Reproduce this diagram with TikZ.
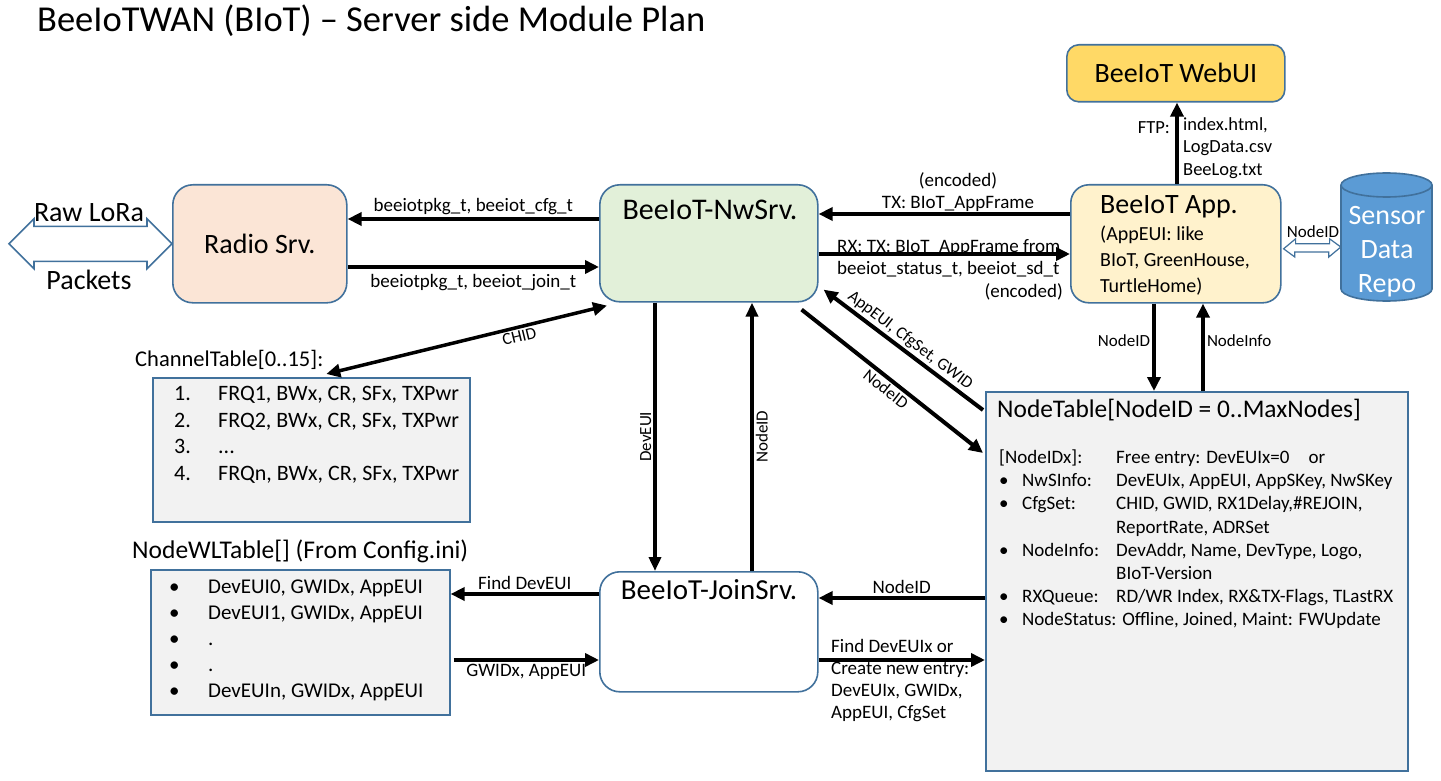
\documentclass[tikz,border=0pt]{standalone}
\usepackage{fontspec}
\setmainfont{Carlito}
\usepackage{tikz}
\usetikzlibrary{shapes.geometric, arrows.meta, positioning, calc}
\definecolor{myborder}{RGB}{65,113,156}
\definecolor{mypeach}{RGB}{251,229,214}
\definecolor{mygreen}{RGB}{226,240,217}
\definecolor{myyellow}{RGB}{255,242,204}
\definecolor{mygold}{RGB}{255,217,102}
\definecolor{mygrey}{RGB}{242,242,242}
\definecolor{myrepo}{RGB}{91,155,213}
\tikzset{
  srvbox/.style={rectangle, draw=myborder, line width=1.6pt, rounded corners=20pt,
    anchor=north west, inner sep=0pt},
  tabbox/.style={rectangle, draw=myborder, fill=mygrey, line width=1.6pt,
    anchor=north west, inner sep=0pt},
  boxtitle/.style={font=\fontsize{28}{33}\selectfont, inner sep=0pt},
  tabtitle/.style={font=\fontsize{24}{28}\selectfont, inner sep=0pt, anchor=west},
  lbl/.style={font=\fontsize{19}{22}\selectfont, inner sep=2pt},
  slbl/.style={font=\fontsize{17}{20}\selectfont, inner sep=2pt},
  arrow/.style={-{Triangle[length=14pt,width=13pt]}, line width=4pt},
  varrow/.style={-{Triangle[length=14pt,width=12pt]}, line width=3.5pt},
  hollow/.style={draw=myborder, fill=white, line width=1.6pt}
}
\begin{document}
\begin{tikzpicture}[x=1pt, y=-1pt]
  \fill[white] (0,0) rectangle (1441,781);
  \useasboundingbox (0,0) rectangle (1441,781);

  % Title
  \node[font=\fontsize{36.5}{42}\selectfont, anchor=west, inner sep=0pt] (title) at (37,21)
    {BeeIoTWAN (BIoT) – Server side Module Plan};

  % Server boxes
  \node[srvbox, fill=mypeach, minimum width=174pt, minimum height=118pt] (radio) at (172,184) {};
  \node[boxtitle] (radiot) at (radio.center) {Radio Srv.};
  \node[srvbox, fill=mygreen, minimum width=218pt, minimum height=117pt] (nwsrv) at (599,184) {};
  \node[boxtitle, font=\fontsize{30}{35}\selectfont] (nwsrvt) at (710,210) {BeeIoT-NwSrv.};
  \node[srvbox, fill=white, minimum width=218pt, minimum height=120pt] (join) at (599,571) {};
  \node[boxtitle, font=\fontsize{29}{34}\selectfont] (joint) at (709,590) {BeeIoT-JoinSrv.};
  \node[srvbox, fill=myyellow, rounded corners=18pt, minimum width=210pt, minimum height=118pt] (app) at (1070,184) {};
  \node[boxtitle, anchor=west] (appt) at (1100,207) {BeeIoT App.};
  \node[font=\fontsize{20}{26}\selectfont, align=left, anchor=north west, inner sep=0pt] (appsub) at (1100,226)
    {(AppEUI: like\\BIoT, GreenHouse,\\TurtleHome)};
  \node[srvbox, fill=mygold, rounded corners=12pt, minimum width=218pt, minimum height=57pt] (webui) at (1066,44) {};
  \node[boxtitle] (webuit) at (webui.center) {BeeIoT WebUI};

  % Sensor data repository
  \fill[myrepo] (1341,185) rectangle (1432,289);
  \fill[myrepo] (1386.5,289) ellipse [x radius=45.5, y radius=12];
  \draw[myborder, line width=1.6pt] (1341,185) -- (1341,289)
    arc[start angle=180, end angle=0, x radius=45.5, y radius=12] -- (1432,185);
  \filldraw[fill=myrepo, draw=myborder, line width=1.6pt] (1386.5,185) ellipse [x radius=45.5, y radius=12];
  \node[minimum width=91pt, minimum height=128pt, inner sep=0pt] (repo) at (1386.5,237) {};
  \node[font=\fontsize{28}{34}\selectfont, text=white, align=center, inner sep=0pt] (repot) at (1387,252)
    {Sensor\\Data\\Repo};

  % Tables
  \node[tabtitle, font=\fontsize{22.5}{27}\selectfont] (chant) at (135,360) {ChannelTable[0..15]:};
  \node[tabbox, minimum width=317pt, minimum height=144pt] (chan) at (152,377) {};
  \node[font=\fontsize{22}{26.5}\selectfont, anchor=north west, inner sep=0pt] (chanitems) at (174,382)
    {\begin{tabular}{@{}p{44pt}@{}l@{}}
      1. & FRQ1, BWx, CR, SFx, TXPwr\\
      2. & FRQ2, BWx, CR, SFx, TXPwr\\
      3. & ...\\
      4. & FRQn, BWx, CR, SFx, TXPwr
    \end{tabular}};

  \node[tabtitle, font=\fontsize{25.5}{30}\selectfont] (wlt) at (132,551) {NodeWLTable[] (From Config.ini)};
  \node[tabbox, minimum width=299pt, minimum height=145pt] (wl) at (150,569) {};
  \node[font=\fontsize{21}{26}\selectfont, anchor=north west, inner sep=0pt] (wlitems) at (169,575)
    {\begin{tabular}{@{}p{39pt}@{}l@{}}
      • & DevEUI0, GWIDx, AppEUI\\
      • & DevEUI1, GWIDx, AppEUI\\
      • & .\\
      • & .\\
      • & DevEUIn, GWIDx, AppEUI
    \end{tabular}};

  \node[tabbox, minimum width=422pt, minimum height=379pt] (ntab) at (985,391) {};
  \node[font=\fontsize{25.4}{30}\selectfont, anchor=west, inner sep=0pt] (ntabt) at (997,410)
    {NodeTable[NodeID = 0..MaxNodes]};
  \node[font=\fontsize{19}{23.2}\selectfont, anchor=north west, inner sep=0pt] (ntitems) at (999,447)
    {\begin{tabular}{@{}p{117pt}@{}l@{}}
      [NodeIDx]: & Free entry: DevEUIx=0\quad or\\
      \makebox[23pt][l]{•}NwSInfo: & DevEUIx, AppEUI, AppSKey, NwSKey\\
      \makebox[23pt][l]{•}CfgSet: & CHID, GWID, RX1Delay,\#REJOIN,\\
       & ReportRate, ADRSet\\
      \makebox[23pt][l]{•}NodeInfo: & DevAddr, Name, DevType, Logo,\\
       & BIoT-Version\\
      \makebox[23pt][l]{•}RXQueue: & RD/WR Index, RX\&TX-Flags, TLastRX\\
      \multicolumn{2}{@{}l@{}}{\makebox[23pt][l]{•}NodeStatus: Offline, Joined, Maint: FWUpdate}
    \end{tabular}};

  % Raw LoRa packets
  \draw[hollow] (radio.west) -- ++(-25,-25) -- ++(0,7.5) -- ++(-113,0) -- ++(0,-7.5)
    -- ++(-25,25) -- ++(25,25) -- ++(0,-7.5) -- ++(113,0) -- ++(0,7.5) -- cycle;
  \node[font=\fontsize{28}{33}\selectfont, inner sep=0pt] (rawt) at (89,213) {Raw LoRa};
  \node[font=\fontsize{28}{33}\selectfont, inner sep=0pt] (packt) at (89,280) {Packets};

  % App <-> Repo
  \coordinate (appr) at ($(app.east)+(2,5)$);
  \coordinate (repol) at ($(repo.west)+(0,10)$);
  \draw[hollow, line width=1.2pt] (appr) -- ++(12,-10) -- ++(0,5) -- ++(34,0) -- ++(0,-5)
    -- (repol) -- ++(-12,10) -- ++(0,-5) -- ++(-34,0) -- ++(0,5) -- cycle;
  \node[slbl, inner sep=0pt] (repolbl) at (1313,232) {NodeID};

  % Radio <-> NwSrv
  \draw[arrow] ($(nwsrv.north west)+(0,35)$) -- node[lbl, above] {beeiotpkg\_t, beeiot\_cfg\_t}
    ($(radio.north east)+(0,35)$);
  \draw[arrow] ($(radio.north east)+(0,83)$) -- node[lbl, below, yshift=-3pt] {beeiotpkg\_t, beeiot\_join\_t}
    ($(nwsrv.north west)+(0,83)$);

  % NwSrv <-> App
  \draw[arrow] ($(app.north west)+(0,30)$) -- ($(nwsrv.north east)+(0,30)$);
  \node[lbl, align=center, inner sep=0pt] (txlbl) at (958,192) {(encoded)\\TX: BIoT\_AppFrame};
  \draw[arrow] ($(nwsrv.north east)+(0,70)$) -- ($(app.north west)+(0,70)$);
  \node[lbl, align=left, anchor=north west, inner sep=0pt] (rxlbl) at (837,239)
    {RX: TX: BIoT\_AppFrame from\\beeiot\_status\_t, beeiot\_sd\_t};
  \node[lbl, anchor=east, inner sep=0pt] (rxenc) at (1063,292) {(encoded)};

  % App -> WebUI
  \draw[arrow] (app.north -| 1177,0) -- (webui.south -| 1177,0);
  \node[font=\fontsize{18.5}{22.5}\selectfont, anchor=east, inner sep=0pt] (ftp) at (1170,128) {FTP:};
  \node[font=\fontsize{18.5}{22.5}\selectfont, align=left, anchor=north west, inner sep=0pt] (ftpfiles) at (1183,117)
    {index.html,\\LogData.csv\\BeeLog.txt};

  % App <-> NodeTable
  \draw[arrow] (app.south -| 1154,0) -- node[slbl, left, pos=0.42] {NodeID} (ntab.north -| 1154,0);
  \draw[arrow] (ntab.north -| 1203,0) -- node[slbl, right, pos=0.58] {NodeInfo} (app.south -| 1203,0);

  % NwSrv <-> ChannelTable
  \draw[{Triangle[length=14pt,width=13pt]}-{Triangle[length=14pt,width=13pt]}, line width=3.5pt]
    ($(nwsrv.south west)+(8,3)$) -- node[slbl, sloped, below, pos=0.32] {CHID} ($(chan.north)+(15,-3)$);

  % NwSrv <-> JoinSrv
  \draw[varrow] (nwsrv.south -| 655,0) -- node[slbl, rotate=90, above] {DevEUI} (join.north -| 655,0);
  \draw[varrow] (join.north -| 752,0) -- node[slbl, rotate=90, below] {NodeID} (nwsrv.south -| 752,0);

  % NwSrv <-> NodeTable
  \draw[arrow] ($(nwsrv.south east)+(-17,7)$) -- node[slbl, sloped, below] {NodeID}
    ($(ntab.north west)+(-2,62)$);
  \draw[arrow] ($(ntab.north west)+(-2,19)$) -- node[slbl, sloped, above] {AppEUI, CfgSet, GWID}
    ($(nwsrv.south east)+(5,-13)$);

  % JoinSrv <-> NodeWLTable
  \draw[arrow] (join.north west |- 0,594) -- node[lbl, above] {Find DevEUI} (wl.north east |- 0,594);
  \draw[arrow] ($(wl.north east)+(3,91)$) -- node[lbl, below] {GWIDx, AppEUI} (join.north west |- 0,660);

  % JoinSrv <-> NodeTable
  \draw[arrow] (ntab.north west |- 0,598) -- node[lbl, above] {NodeID} (join.north east |- 0,598);
  \draw[arrow] (join.north east |- 0,660) -- (ntab.north west |- 0,660);
  \node[lbl, align=left, anchor=north west, inner sep=0pt] (findlbl) at (831,639)
    {Find DevEUIx or\\Create new entry:\\DevEUIx, GWIDx,\\AppEUI, CfgSet};
\end{tikzpicture}
\end{document}
